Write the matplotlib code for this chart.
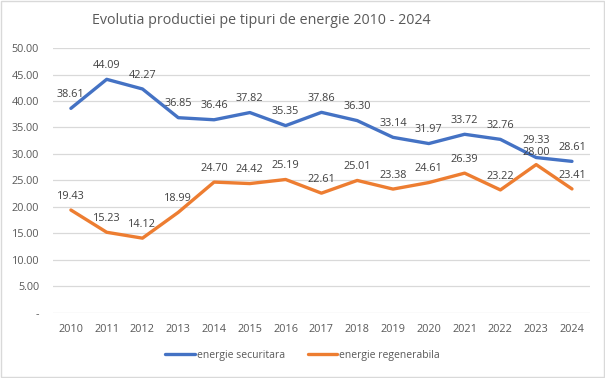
import matplotlib
matplotlib.use("Agg")
import matplotlib.pyplot as plt
from matplotlib.ticker import FuncFormatter

years = ["2010", "2011", "2012", "2013", "2014", "2015", "2016", "2017",
         "2018", "2019", "2020", "2021", "2022", "2023", "2024"]
securitara = [38.61, 44.09, 42.27, 36.85, 36.46, 37.82, 35.35, 37.86,
              36.30, 33.14, 31.97, 33.72, 32.76, 29.33, 28.61]
regenerabila = [19.43, 15.23, 14.12, 18.99, 24.70, 24.42, 25.19, 22.61,
                25.01, 23.38, 24.61, 26.39, 23.22, 28.00, 23.41]
series_names = ["energie securitara", "energie regenerabila"]
title = "Evolutia productiei pe tipuri de energie 2010 - 2024"

plt.rcParams['font.family'] = ['Open Sans', 'DejaVu Sans']

fig = plt.figure(figsize=(6.05, 3.78), dpi=100)
ax = fig.add_axes([0.0876, 0.172, 0.8874, 0.701])

x = list(range(len(years)))
blue = "#4472C4"
orange = "#ED7D31"
ax.plot(x, securitara, color=blue, lw=2.4, solid_capstyle='round', label=series_names[0], zorder=3)
ax.plot(x, regenerabila, color=orange, lw=2.4, solid_capstyle='round', label=series_names[1], zorder=3)

lblc = "#404040"
for xi, v in zip(x, securitara):
    dy = 8 if xi == 13 else 6
    ax.annotate(f"{v:.2f}", (xi, v), xytext=(0, dy), textcoords="offset points",
                ha="center", va="bottom", fontsize=7.8, color=lblc)
for xi, v in zip(x, regenerabila):
    ax.annotate(f"{v:.2f}", (xi, v), xytext=(0, 5 if xi == 13 else 6), textcoords="offset points",
                ha="center", va="bottom", fontsize=7.8, color=lblc)

ax.set_xlim(-0.5, len(years) - 0.5)
ax.set_ylim(0, 50)
ax.set_yticks(range(0, 51, 5))
ax.yaxis.set_major_formatter(FuncFormatter(lambda v, p: "-" if v == 0 else f"{v:.2f}"))
ax.set_xticks(x)
ax.set_xticklabels(years)
ax.tick_params(axis='both', length=0, labelsize=7.8, labelcolor="#595959")
ax.tick_params(axis='x', pad=8)
ax.tick_params(axis='y', pad=10)
ax.grid(axis='y', color="#D9D9D9", lw=0.9)
ax.set_axisbelow(True)
for s in ax.spines.values():
    s.set_visible(False)

fig.text(0.432, 0.945, title, ha="center", va="center", fontsize=10.3, color="#595959")

fig.legend(loc="center", bbox_to_anchor=(0.5, 0.06), ncol=2, frameon=False,
           fontsize=7.5, labelcolor="#595959", handlelength=2.8, columnspacing=2.2,
           handletextpad=0.2)

border = plt.Rectangle((0.002, 0.003), 0.996, 0.994, transform=fig.transFigure,
                       fill=False, edgecolor="#D9D9D9", lw=1)
fig.patches.append(border)

fig.savefig("out.png", dpi=100)
